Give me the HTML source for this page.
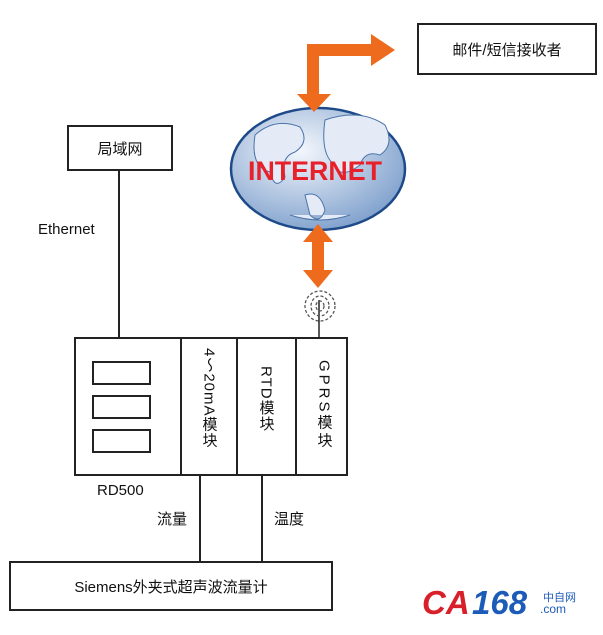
<!DOCTYPE html>
<html><head><meta charset="utf-8"><style>
body{margin:0;background:#fff;width:603px;height:630px;overflow:hidden}
svg text{font-family:"Liberation Sans","Noto Sans CJK SC",sans-serif}
</style></head><body>
<svg width="603" height="630" viewBox="0 0 603 630">
<defs>
<radialGradient id="g" cx="40%" cy="35%" r="70%"><stop offset="0" stop-color="#f4f7fc"/><stop offset="1" stop-color="#7d9fcc"/></radialGradient>
</defs>
<g stroke="#222" stroke-width="2" fill="none">
<rect x="418" y="24" width="178" height="50"/>
<rect x="68" y="126" width="104" height="44"/>
<rect x="75" y="338" width="272" height="137"/>
<line x1="181" y1="338" x2="181" y2="475"/>
<line x1="237" y1="338" x2="237" y2="475"/>
<line x1="296" y1="338" x2="296" y2="475"/>
<rect x="93" y="362" width="57" height="22"/>
<rect x="93" y="396" width="57" height="22"/>
<rect x="93" y="430" width="57" height="22"/>
<line x1="119" y1="170" x2="119" y2="338"/>
<rect x="10" y="562" width="322" height="48"/>
<line x1="200" y1="475" x2="200" y2="562"/>
<line x1="262" y1="475" x2="262" y2="562"/>
<line x1="319" y1="300" x2="319" y2="338" stroke-width="1.5"/>
</g>
<g fill="none" stroke="#555" stroke-dasharray="3,2" stroke-width="1.3">
<ellipse cx="320" cy="306" rx="15" ry="15"/><ellipse cx="320" cy="306" rx="9" ry="10"/><ellipse cx="320" cy="306" rx="4" ry="5"/>
</g>
<ellipse cx="318" cy="169" rx="87" ry="61" fill="url(#g)" stroke="#1e4a8a" stroke-width="2.5"/>
<path d="M255 135 q20 -18 45 -8 q10 15 -5 25 q-15 5 -10 25 q-10 15 -15 -5 q-20 -5 -15 -37z M325 120 q35 -12 60 5 q10 20 -5 30 q-15 -5 -20 10 q-20 15 -25 0 q-15 -10 -10 -45z M305 195 q15 -5 20 15 q-5 15 -15 5z M290 215 q30 10 60 0" fill="#e4ebf6" stroke="#4a73aa" stroke-width="1"/>
<text x="315" y="180" text-anchor="middle" font-size="27" font-weight="bold" fill="#e8202a" textLength="134" lengthAdjust="spacingAndGlyphs">INTERNET</text>
<g fill="#ee6b1e">
<path d="M307 44 h64 v-10 l24 16 l-24 16 v-10 h-52 v38 h12 l-17 18 l-17 -18 h10z"/>
<path d="M318 224 l15 18 h-9 v28 h9 l-15 18 l-15 -18 h9 v-28 h-9z"/>
</g>
<g font-size="15" fill="#111">
<text x="507" y="55" text-anchor="middle">邮件/短信接收者</text>
<text x="120" y="154" text-anchor="middle">局域网</text>
<text x="38" y="234">Ethernet</text>
<text x="97" y="495">RD500</text>
<text x="157" y="524">流量</text>
<text x="274" y="524">温度</text>
<text x="171" y="592" text-anchor="middle">Siemens外夹式超声波流量计</text>
</g>
<g font-size="15" fill="#111">
<text x="209" y="348" style="writing-mode:tb;letter-spacing:1px">4～20mA模块</text>
<text x="266" y="366" style="writing-mode:tb;letter-spacing:1px">RTD模块</text>
<text x="324" y="360" style="writing-mode:tb;letter-spacing:3px">GPRS模块</text>
</g>
<text x="422" y="614" font-size="33" font-style="italic" font-weight="bold" fill="#d8202a">CA</text>
<text x="472" y="614" font-size="33" font-style="italic" font-weight="bold" fill="#1d5bb8">168</text>
<text x="543" y="601" font-size="11" fill="#1d5bb8">中自网</text>
<text x="540" y="613" font-size="12" fill="#1d5bb8">.com</text>
</svg>
</body></html>
